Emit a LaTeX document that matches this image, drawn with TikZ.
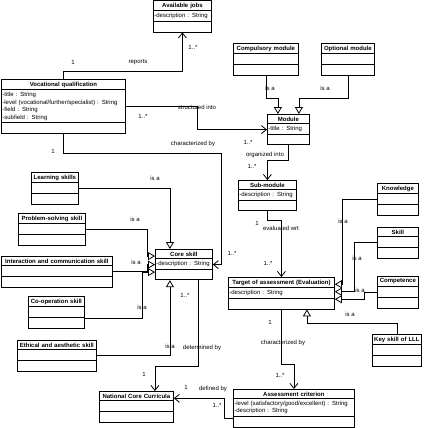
\documentclass[tikz,border=0pt]{standalone}
\usepackage{fontspec}
\setmainfont{Liberation Sans}
\usetikzlibrary{arrows.meta,shapes.multipart,positioning}
\newcommand{\nopart}{\rule{0pt}{6pt}}
\tikzset{
  umlclass/.style={draw, rectangle split, rectangle split parts=3, anchor=north west,
    text width=#1, inner xsep=1pt, inner ysep=2pt, line width=0.8pt,
    font=\fontsize{6}{7.5}\selectfont},
  assoc/.style={line width=0.8pt, -{Straight Barb[length=5pt,width=8pt]}},
  isa/.style={line width=0.8pt, -{Triangle[open,length=7pt,width=8pt]}},
  lbl/.style={inner sep=0pt, font=\fontsize{6}{7.5}\selectfont}
}
\begin{document}
\begin{tikzpicture}[x=1pt,y=-1pt]
            \useasboundingbox (0,0) rectangle (423,428);
            % Classes
            \node[umlclass=56pt] (avail) at (153,0) {\centering\bfseries Available jobs\par\nodepart{second}-description : String\nodepart{third}\nopart};
            \node[umlclass=122pt] (vq) at (1,79) {\centering\bfseries Vocational qualification\par\nodepart{second}-title : String\\-level (vocational/further/specialist) : String\\-field : String\\-subfield : String\nodepart{third}\nopart};
            \node[umlclass=63pt] (comp) at (233,43) {\centering\bfseries Compulsory module\par\nodepart{second}\nopart\nodepart{third}\nopart};
            \node[umlclass=51pt] (opt) at (321,43) {\centering\bfseries Optional module\par\nodepart{second}\nopart\nodepart{third}\nopart};
            \node[umlclass=40pt] (module) at (267,114) {\centering\bfseries Module\par\nodepart{second}-title : String\nodepart{third}\nopart};
            \node[umlclass=56pt] (sub) at (238,180) {\centering\bfseries Sub-module\par\nodepart{second}-description : String\nodepart{third}\nopart};
            \node[umlclass=45pt] (learn) at (31,172) {\centering\bfseries Learning skills\par\nodepart{second}\nopart\nodepart{third}\nopart};
            \node[umlclass=65pt] (prob) at (18,213) {\centering\bfseries Problem-solving skill\par\nodepart{second}\nopart\nodepart{third}\nopart};
            \node[umlclass=109pt] (inter) at (1,256) {\centering\bfseries Interaction and communication skill\par\nodepart{second}\nopart\nodepart{third}\nopart};
            \node[umlclass=54pt] (coop) at (28,296) {\centering\bfseries Co-operation skill\par\nodepart{second}\nopart\nodepart{third}\nopart};
            \node[umlclass=77pt] (ethic) at (17,340) {\centering\bfseries Ethical and aesthetic skill\par\nodepart{second}\nopart\nodepart{third}\nopart};
            \node[umlclass=55pt] (core) at (155,249) {\centering\bfseries Core skill\par\nodepart{second}-description : String\nodepart{third}\nopart};
            \node[umlclass=72pt] (ncc) at (99,391) {\centering\bfseries National Core Curricula\par\nodepart{second}\nopart\nodepart{third}\nopart};
            \node[umlclass=104pt] (target) at (228,277) {\centering\bfseries Target of assessment (Evaluation)\par\nodepart{second}-description : String\nodepart{third}\nopart};
            \node[umlclass=39pt] (know) at (377,183) {\centering\bfseries Knowledge\par\nodepart{second}\nopart\nodepart{third}\nopart};
            \node[umlclass=39pt] (skill) at (377,227) {\centering\bfseries Skill\par\nodepart{second}\nopart\nodepart{third}\nopart};
            \node[umlclass=39pt] (compet) at (377,276) {\centering\bfseries Competence\par\nodepart{second}\nopart\nodepart{third}\nopart};
            \node[umlclass=47pt] (key) at (372,334) {\centering\bfseries Key skill of LLL\par\nodepart{second}\nopart\nodepart{third}\nopart};
            \node[umlclass=119pt] (crit) at (233,389) {\centering\bfseries Assessment criterion\par\nodepart{second}-level (satisfactory/good/excellent) : String\\-description : String\nodepart{third}\nopart};
            % Associations
            \draw[assoc] (vq.north) -- ++(0,-8) -| (avail.south);
            \draw[assoc] (vq.east) -- ++(72,0) |- (module.west);
            \draw[assoc] (module.south) -- ++(0,15) -| (sub.north);
            \draw[assoc] (sub.south) -- ++(0,9) -| (target.north);
            \draw[assoc] (vq.south) -- ++(0,20) -| ([xshift=9pt]core.east) -- (core.east);
            \draw[assoc] ([xshift=14pt]core.south) -- ++(0,86) -| ([xshift=18.5pt]ncc.north);
            \draw[assoc] ([yshift=-10pt]crit.west) -| ([xshift=51pt,yshift=8.5pt]ncc.east) -- ([yshift=8.5pt]ncc.east);
            \draw[assoc] (target.south) -- ++(0,55) -| (crit.north);
            % Generalizations
            \draw[isa] (comp.south) -- ++(0,23) -| ([xshift=-10.5pt]module.north);
            \draw[isa] (opt.south) -- ++(0,23) -| ([xshift=10.5pt]module.north);
            \draw[isa] (learn.east) -| ([xshift=-14pt]core.north);
            \draw[isa] (prob.east) -| ([xshift=-8pt,yshift=8.5pt]core.west) -- ([yshift=8.5pt]core.west);
            \draw[isa] (inter.east) -| ([xshift=-8pt]core.west) -- (core.west);
            \draw[isa] ([yshift=-6pt]coop.east) -| ([xshift=-13pt,yshift=-7.5pt]core.west) -- ([yshift=-7.5pt]core.west);
            \draw[isa] (ethic.east) -| ([xshift=-14pt]core.south);
            \draw[isa] (know.west) -| ([xshift=8pt,yshift=9pt]target.east) -- ([yshift=9pt]target.east);
            \draw[isa] (skill.west) -| ([xshift=20pt,yshift=1.5pt]target.east) -- ([yshift=1.5pt]target.east);
            \draw[isa] (compet.west) -| ([xshift=30pt,yshift=-6pt]target.east) -- ([yshift=-6pt]target.east);
            \draw[isa] (key.north) -- ++(0,-11) -| ([xshift=25.5pt]target.south);
            % Label the connectors
            \node[lbl] (rep1) at (73,62) {1};
            \node[lbl] (repT) at (138,62) {reports};
            \node[lbl] (rep2) at (193,47) {1..*};
            \node[lbl] (strT) at (197,107) {structured into};
            \node[lbl] (str1) at (143,116) {1..*};
            \node[lbl] (str2) at (248,142) {1..*};
            \node[lbl] (isaC) at (270,88) {is a};
            \node[lbl] (isaO) at (325,88) {is a};
            \node[lbl] (orgT) at (265,155) {organized into};
            \node[lbl] (org2) at (252,166) {1..*};
            \node[lbl] (eva1) at (257,223) {1};
            \node[lbl] (evaT) at (281,228) {evaluated wrt};
            \node[lbl] (eva2) at (268,263) {1..*};
            \node[lbl] (chr1) at (53,151) {1};
            \node[lbl] (chrT) at (193,144) {characterized by};
            \node[lbl] (chr2) at (232,253) {1..*};
            \node[lbl] (isaL) at (155,178) {is a};
            \node[lbl] (isaP) at (135,219) {is a};
            \node[lbl] (isaI) at (136,262) {is a};
            \node[lbl] (isaCo) at (142,307) {is a};
            \node[lbl] (isaE) at (170,346) {is a};
            \node[lbl] (det1) at (185,295) {1..*};
            \node[lbl] (detT) at (202,348) {determined by};
            \node[lbl] (det2) at (144,374) {1};
            \node[lbl] (def1) at (186,387) {1};
            \node[lbl] (defT) at (213,389) {defined by};
            \node[lbl] (def2) at (217,405) {1..*};
            \node[lbl] (crt1) at (270,322) {1};
            \node[lbl] (crtT) at (283,343) {characterized by};
            \node[lbl] (crt2) at (280,375) {1..*};
            \node[lbl] (isaK) at (350,314) {is a};
            \node[lbl] (isaKn) at (343,221) {is a};
            \node[lbl] (isaS) at (357,258) {is a};
            \node[lbl] (isaCm) at (360,290) {is a};
          \end{tikzpicture}
\end{document}
